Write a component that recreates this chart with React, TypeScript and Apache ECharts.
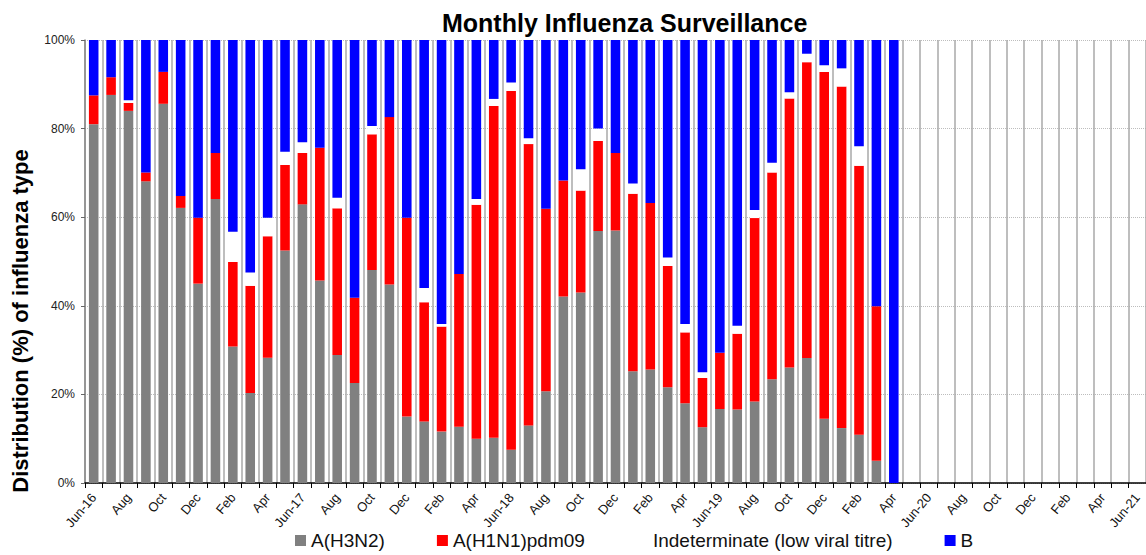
import React, { useEffect, useRef } from "react";
import * as echarts from "echarts";

const months: string[] = [
  "Jun-16", "Jul-16", "Aug-16", "Sep-16", "Oct-16", "Nov-16", "Dec-16",
  "Jan-17", "Feb-17", "Mar-17", "Apr-17", "May-17", "Jun-17", "Jul-17", "Aug-17", "Sep-17", "Oct-17", "Nov-17", "Dec-17",
  "Jan-18", "Feb-18", "Mar-18", "Apr-18", "May-18", "Jun-18", "Jul-18", "Aug-18", "Sep-18", "Oct-18", "Nov-18", "Dec-18",
  "Jan-19", "Feb-19", "Mar-19", "Apr-19", "May-19", "Jun-19", "Jul-19", "Aug-19", "Sep-19", "Oct-19", "Nov-19", "Dec-19",
  "Jan-20", "Feb-20", "Mar-20", "Apr-20", "May-20", "Jun-20", "Jul-20", "Aug-20", "Sep-20", "Oct-20", "Nov-20", "Dec-20",
  "Jan-21", "Feb-21", "Mar-21", "Apr-21", "May-21", "Jun-21",
];

const h3n2: number[] = [
  81.0, 87.6, 84.0, 68.1, 85.6, 62.1, 45.0,
  64.1, 30.8, 20.3, 28.3, 52.5, 62.9, 45.7, 28.9, 22.6, 48.1, 44.8, 15.0,
  13.9, 11.6, 12.7, 10.0, 10.2, 7.5, 13.0, 20.7, 42.1, 43.0, 56.9, 57.0,
  25.2, 25.6, 21.6, 18.0, 12.6, 16.7, 16.6, 18.4, 23.4, 26.1, 28.2, 14.5,
  12.4, 10.9, 5.0, 0,
];

const h1n1: number[] = [
  6.5, 4.0, 1.8, 2.0, 7.2, 2.7, 14.9,
  10.4, 19.1, 24.2, 27.4, 19.3, 11.6, 30.0, 33.1, 19.2, 30.6, 37.8, 44.9,
  26.9, 23.7, 34.5, 52.8, 74.9, 81.0, 63.5, 41.2, 26.2, 23.0, 20.3, 17.5,
  40.1, 37.6, 27.4, 16.0, 11.1, 12.7, 17.1, 41.4, 46.7, 60.7, 66.8, 78.3,
  77.1, 60.7, 34.9, 0,
];

const indeterminate: number[] = [
  0, 0, 0.6, 0, 0, 0, 0,
  0, 6.8, 3.0, 4.2, 3.0, 2.4, 0, 2.4, 0, 1.9, 0, 0,
  3.2, 0.6, 0, 1.3, 1.6, 1.9, 1.3, 0, 0, 4.8, 2.8, 0,
  2.3, 0, 1.9, 1.9, 1.3, 0, 1.8, 1.8, 2.2, 1.4, 1.9, 1.5,
  4.1, 4.4, 0, 0,
];

const fluB: number[] = [
  12.5, 8.4, 13.6, 29.9, 7.2, 35.2, 40.1,
  25.5, 43.3, 52.5, 40.1, 25.2, 23.1, 24.3, 35.6, 58.2, 19.4, 17.4, 40.1,
  56.0, 64.1, 52.8, 35.9, 13.3, 9.6, 22.2, 38.1, 31.7, 29.2, 20.0, 25.5,
  32.4, 36.8, 49.1, 64.1, 75.0, 70.6, 64.5, 38.4, 27.7, 11.8, 3.1, 5.7,
  6.4, 24.0, 60.1, 100,
];

const FONT = "'Liberation Sans', Arial, sans-serif";

export default function App() {
  const ref = useRef<HTMLDivElement>(null);

  useEffect(() => {
    if (!ref.current) return;
    const chart = echarts.init(ref.current, undefined, { renderer: "svg" });
    const barBase = { type: "bar", stack: "total", barWidth: "55%" };
    chart.setOption({
      animation: false,
      backgroundColor: "#ffffff",
      title: {
        text: "Monthly Influenza Surveillance",
        left: 437,
        top: 5,
        textStyle: { fontFamily: FONT, fontSize: 25, fontWeight: "bold", color: "#000" },
      },
      legend: {
        top: 526,
        left: 290,
        itemGap: 52,
        itemWidth: 11,
        itemHeight: 11,
        icon: "rect",
        textStyle: { fontFamily: FONT, fontSize: 19, color: "#111" },
        data: ["A(H3N2)", "A(H1N1)pdm09", "Indeterminate (low viral titre)", "B"],
      },
      grid: { left: 85, right: -10, top: 40, bottom: 72, containLabel: false },
      xAxis: {
        type: "category",
        data: months,
        boundaryGap: true,
        axisLine: { lineStyle: { color: "#000", width: 1.5 } },
        axisTick: { show: true, interval: 0, length: 5, lineStyle: { color: "#000" } },
        splitLine: { show: true, interval: 0, lineStyle: { color: "#a8a8a8", width: 1.5 } },
        axisLabel: {
          interval: 1,
          rotate: 50,
          fontFamily: FONT,
          fontSize: 13,
          color: "#111",
          margin: 12,
          formatter: (v: string) => (v.startsWith("Jun") ? v : v.slice(0, 3)),
        },
      },
      yAxis: {
        type: "value",
        min: 0,
        max: 100,
        interval: 20,
        axisLine: { show: true, lineStyle: { color: "#888", width: 1.5 } },
        axisTick: { show: true, length: 4, lineStyle: { color: "#666" } },
        splitLine: { show: true, lineStyle: { color: "#bdbdbd", type: "dotted", width: 1 } },
        axisLabel: {
          formatter: "{value}%",
          fontFamily: FONT,
          fontSize: 12,
          color: "#222",
          margin: 10,
        },
      },
      graphic: [
        {
          type: "text",
          x: 20,
          y: 321,
          rotation: Math.PI / 2,
          style: {
            text: "Distribution (%) of influenza type",
            font: `bold 22px ${FONT}`,
            fill: "#000",
            textAlign: "center",
            textVerticalAlign: "middle",
          },
        },
      ],
      series: [
        { ...barBase, name: "A(H3N2)", data: h3n2, itemStyle: { color: "#808080" } },
        { ...barBase, name: "A(H1N1)pdm09", data: h1n1, itemStyle: { color: "#ff0000" } },
        { ...barBase, name: "Indeterminate (low viral titre)", data: indeterminate, itemStyle: { color: "#ffffff" } },
        { ...barBase, name: "B", data: fluB, itemStyle: { color: "#0000ff" } },
      ],
    });
    return () => chart.dispose();
  }, []);

  return (
    <div
      ref={ref}
      style={{ position: "absolute", left: 0, top: 0, width: 1146, height: 555, background: "#fff" }}
    />
  );
}
